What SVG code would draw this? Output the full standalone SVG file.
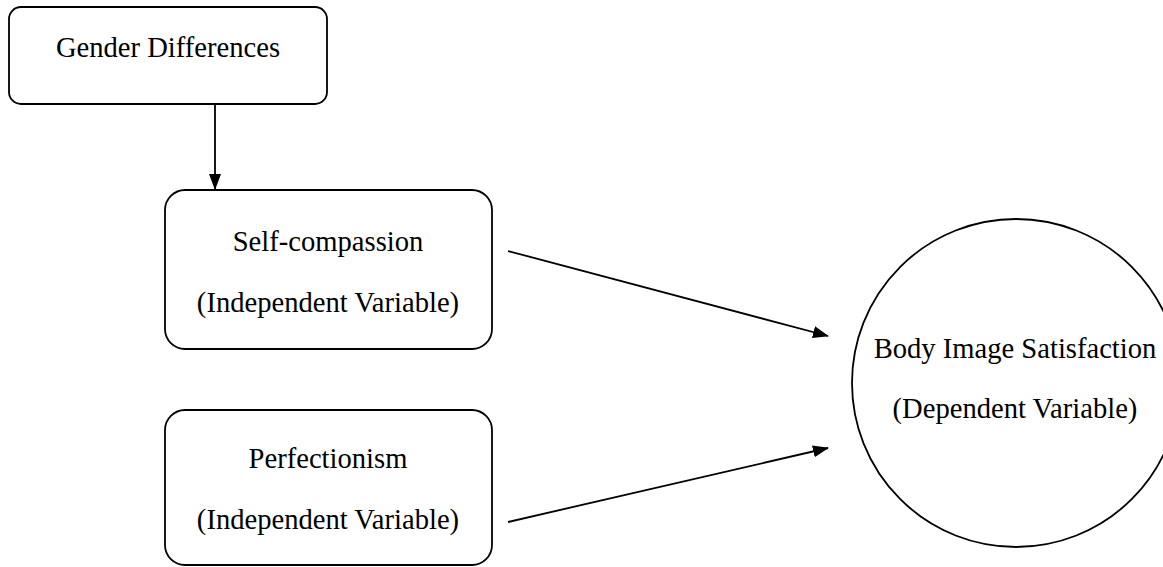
<svg xmlns="http://www.w3.org/2000/svg" width="1163" height="567" viewBox="0 0 1163 567">
<style>
.box{fill:#fff;stroke:#000;stroke-width:1.8}
.t{font-family:"Liberation Serif","Times New Roman",serif;font-size:28.6px;fill:#000;text-anchor:middle}
.c{stroke:#000;stroke-width:1.8;fill:none}
</style>
<defs>
<marker id="ah" markerWidth="16" markerHeight="12" refX="15" refY="6" orient="auto" markerUnits="userSpaceOnUse" viewBox="0 0 16 12">
<path d="M0,0 L16,6 L0,12 z" fill="#000"/>
</marker>
</defs>
<rect width="1163" height="567" fill="#fff"/>
<g id="connectors">
<line class="c" x1="215" y1="104" x2="215" y2="189" marker-end="url(#ah)"/>
<line class="c" x1="508" y1="251" x2="828" y2="336" marker-end="url(#ah)"/>
<line class="c" x1="508" y1="522" x2="828" y2="448" marker-end="url(#ah)"/>
</g>
<g id="gender">
<rect class="box" x="9" y="7" width="318" height="97" rx="12"/>
<text class="t" x="168" y="57">Gender Differences</text>
</g>
<g id="selfcompassion">
<rect class="box" x="165" y="190" width="327" height="159" rx="20"/>
<text class="t" x="328" y="251">Self-compassion</text>
<text class="t" x="328" y="312">(Independent Variable)</text>
</g>
<g id="perfectionism">
<rect class="box" x="165" y="410" width="327" height="155" rx="20"/>
<text class="t" x="328" y="468">Perfectionism</text>
<text class="t" x="328" y="529">(Independent Variable)</text>
</g>
<g id="bodyimage">
<circle class="box" cx="1016" cy="383" r="164"/>
<text class="t" x="1015" y="358">Body Image Satisfaction</text>
<text class="t" x="1015" y="418">(Dependent Variable)</text>
</g>
</svg>
